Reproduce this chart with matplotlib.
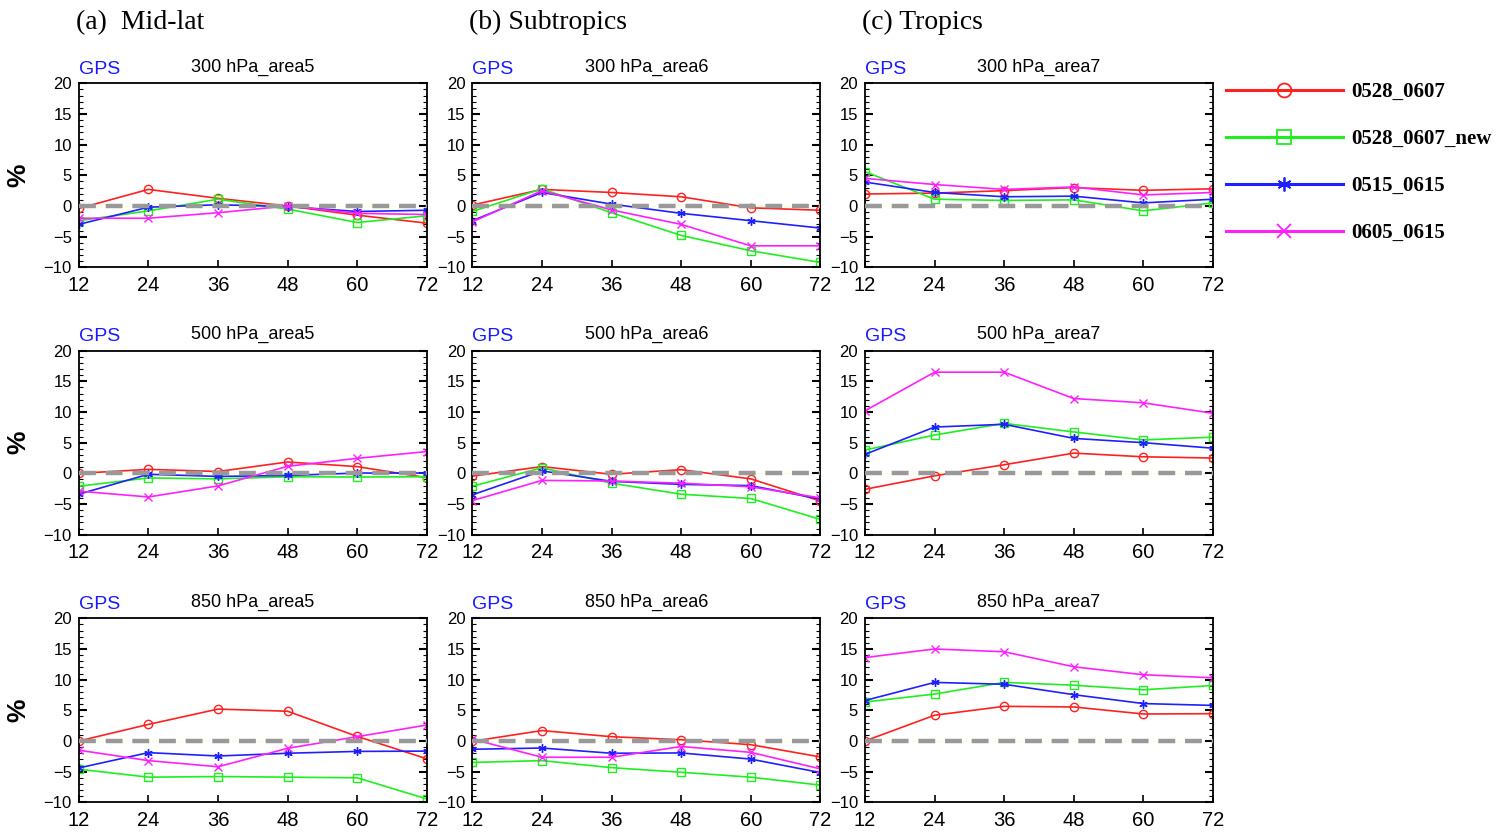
#GPS verification: percent difference at 300/500/850 hPa for three areas
import numpy as np
import matplotlib
matplotlib.use("Agg")
import matplotlib.pyplot as plt
from matplotlib.lines import Line2D
from matplotlib.ticker import MultipleLocator

plt.rcParams['font.family'] = ['Liberation Sans', 'DejaVu Sans']

hours = [12, 24, 36, 48, 60, 72]
levels = ['300', '500', '850']
areas = ['area5', 'area6', 'area7']
col_titles = ['(a)  Mid-lat', '(b) Subtropics', '(c) Tropics']
exp_names = ['0528_0607', '0528_0607_new', '0515_0615', '0605_0615']

#values, order: 0528_0607, 0528_0607_new, 0515_0615, 0605_0615
p300_area5 = [[-0.4, 2.7, 1.25, 0.0, -1.5, -2.8],
              [-2.4, -0.8, 1.1, -0.5, -2.7, -1.6],
              [-3.0, -0.2, 0.2, -0.1, -0.9, -0.7],
              [-2.0, -2.0, -1.1, 0.0, -1.2, -1.4]]
p300_area6 = [[0.15, 2.7, 2.2, 1.5, -0.3, -0.7],
              [-0.9, 2.8, -1.1, -4.8, -7.3, -9.2],
              [-2.4, 2.2, 0.3, -1.2, -2.4, -3.6],
              [-2.6, 2.5, -0.65, -3.0, -6.5, -6.5]]
p300_area7 = [[1.95, 2.1, 2.5, 3.0, 2.55, 2.8],
              [5.6, 1.1, 0.9, 1.0, -0.8, 0.5],
              [3.9, 2.2, 1.5, 1.6, 0.5, 1.1],
              [4.5, 3.5, 2.7, 3.1, 1.8, 2.2]]
p500_area5 = [[0.0, 0.65, 0.3, 1.85, 1.1, -0.7],
              [-2.1, -0.75, -0.9, -0.55, -0.6, -0.55],
              [-3.4, -0.15, -0.5, -0.35, 0.05, 0.05],
              [-2.9, -3.85, -2.05, 1.15, 2.45, 3.55]]
p500_area6 = [[-0.45, 1.1, -0.15, 0.6, -0.9, -4.5],
              [-2.1, 0.9, -1.6, -3.4, -4.1, -7.5],
              [-3.5, 0.4, -1.3, -1.8, -2.0, -4.2],
              [-4.45, -1.15, -1.25, -1.6, -2.2, -4.0]]
p500_area7 = [[-2.6, -0.4, 1.4, 3.3, 2.7, 2.5],
              [3.8, 6.25, 8.15, 6.75, 5.45, 5.9],
              [3.1, 7.55, 8.0, 5.7, 5.0, 4.1],
              [10.2, 16.5, 16.5, 12.2, 11.5, 9.8]]
p850_area5 = [[0.0, 2.7, 5.2, 4.85, 0.75, -2.9],
              [-4.6, -5.9, -5.8, -5.9, -6.0, -9.45],
              [-4.4, -1.9, -2.45, -2.0, -1.7, -1.65],
              [-1.5, -3.2, -4.2, -1.2, 0.7, 2.6]]
p850_area6 = [[-0.05, 1.7, 0.7, 0.2, -0.6, -2.6],
              [-3.5, -3.2, -4.35, -5.1, -5.9, -7.2],
              [-1.35, -1.15, -2.0, -1.95, -2.95, -5.15],
              [0.3, -2.65, -2.65, -0.9, -1.85, -4.55]]
p850_area7 = [[0.0, 4.2, 5.65, 5.55, 4.4, 4.45],
              [6.35, 7.65, 9.55, 9.1, 8.35, 9.05],
              [6.6, 9.55, 9.25, 7.55, 6.1, 5.8],
              [13.6, 15.0, 14.55, 12.1, 10.8, 10.3]]

panels = [[p300_area5, p300_area6, p300_area7],
          [p500_area5, p500_area6, p500_area7],
          [p850_area5, p850_area6, p850_area7]]

colors = ['#ff2020', '#20ee20', '#2020ff', '#ff20ff']
markers = ['o', 's', (6, 2, 0), 'x']

fig = plt.figure(figsize=(15.09, 8.34), dpi=100)

lefts = [0.0522, 0.3130, 0.5732]
bottoms = [0.6795, 0.3589, 0.0380]
w = 0.2306
h = 0.2206

for r in range(3):
  for c in range(3):
    ax = fig.add_axes([lefts[c], bottoms[r], w, h])
    data = panels[r][c]
    for i in range(4):
      ax.plot(hours, data[i], color=colors[i], lw=1.2, marker=markers[i],
              ms=6, mfc='none', mec=colors[i], mew=1.0, zorder=2)
    # zero reference line
    ax.axhline(0, color='#ffff99', lw=0.8, ls=':', zorder=1)
    ax.axhline(0, color='#999999', lw=3.2, ls=(0, (3.8, 2.2)), zorder=3)

    ax.set_xlim(12, 72)
    ax.set_ylim(-10, 20)
    ax.set_xticks(hours)
    ax.yaxis.set_major_locator(MultipleLocator(5))
    ax.yaxis.set_minor_locator(MultipleLocator(1))
    ax.tick_params(axis='x', direction='in', length=5, width=1.2, labelsize=14.5, pad=6)
    ax.tick_params(axis='y', which='major', direction='in', length=6, width=1.5,
                   labelsize=12, left=True, right=True, pad=5)
    ax.tick_params(axis='y', which='minor', direction='in', length=3, width=0.8,
                   left=True, right=True)
    for s in ax.spines.values():
      s.set_linewidth(1.3)

    ax.text(0.0, 1.03, 'GPS', transform=ax.transAxes, color='#1a1aff',
            fontsize=14, ha='left', va='bottom')
    ax.text(0.5, 1.04, levels[r] + ' hPa_' + areas[c], transform=ax.transAxes,
            color='black', fontsize=13, ha='center', va='bottom')

    if c == 0:
      fig.text(0.012, bottoms[r] + h / 2, '%', rotation=90, fontsize=19,
               weight='bold', ha='center', va='center')

#column headers
for c in range(3):
  fig.text(lefts[c] - 0.002, 0.973, col_titles[c], fontsize=20,
           family='Liberation Serif', ha='left', va='center')

#legend
handles = [Line2D([], [], color=colors[i], lw=2.2, marker=markers[i], ms=10,
                  mfc='none', mec=colors[i], mew=1.3) for i in range(4)]
fig.legend(handles, exp_names, loc='upper left', bbox_to_anchor=(0.800, 0.924),
           frameon=False, handlelength=5.6, labelspacing=1.3, handletextpad=0.4,
           prop={'family': 'Liberation Serif', 'weight': 'bold', 'size': 15})

fig.savefig('out.png', dpi=100)
